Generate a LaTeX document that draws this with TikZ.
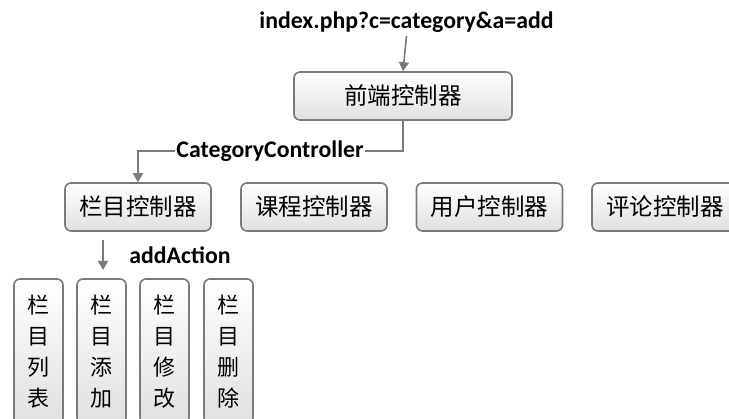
\documentclass[tikz,border=0pt]{standalone}
\usepackage{fontspec}
\setmainfont{Carlito}
\newfontfamily\cjk{Noto Sans CJK SC}
\usetikzlibrary{arrows.meta}
\definecolor{ln}{HTML}{7A7A7A}
\begin{document}
\begin{tikzpicture}[x=1pt,y=-1pt,
  box/.style={draw=ln,line width=1.6pt,rounded corners=6pt,top color=white,bottom color=black!12,
    inner sep=0pt,font=\cjk\fontsize{23.5}{28}\selectfont},
  hbox/.style={box,minimum width=146pt,minimum height=48pt},
  vbox/.style={box,minimum width=49pt,minimum height=145pt,align=center,
    font=\cjk\fontsize{22}{31}\selectfont},
  lbl/.style={font=\bfseries\fontsize{23.8}{26}\selectfont,inner sep=1pt},
  conn/.style={draw=ln,line width=1.6pt},
  arr/.style={conn,-{Triangle[length=9pt,width=10pt]}}]
\useasboundingbox (0,0) rectangle (729,419);
\clip (0,0) rectangle (729,419);
\node[lbl] (url) at (406.5,22) {index.php?c=category\&a=add};
\node[box,minimum width=218pt,minimum height=48pt] (fe) at (403,96) {前端控制器};
\node[lbl] (cc) at (270,151) {CategoryController};
\node[hbox] (c1) at (138,207) {栏目控制器};
\node[hbox] (c2) at (314,207) {课程控制器};
\node[hbox] (c3) at (489.5,207) {用户控制器};
\node[hbox] (c4) at (665,207) {评论控制器};
\node[lbl] (aa) at (180,255) {addAction};
\coordinate (a1) at (103,240);
\coordinate (a2) at (103,270);
\node[vbox] (v1) at (38.5,351.5) {栏\\目\\列\\表};
\node[vbox] (v2) at (101.5,351.5) {栏\\目\\添\\加};
\node[vbox] (v3) at (164.5,351.5) {栏\\目\\修\\改};
\node[vbox] (v4) at (228.5,351.5) {栏\\目\\删\\除};
\draw[arr] (url.south |- 0,36) -- (fe.north);
\draw[conn] (fe.south) |- (cc.east);
\draw[arr] (cc.west) -| (c1.north);
\draw[arr] (a1) -- (a2);
\end{tikzpicture}
\end{document}
